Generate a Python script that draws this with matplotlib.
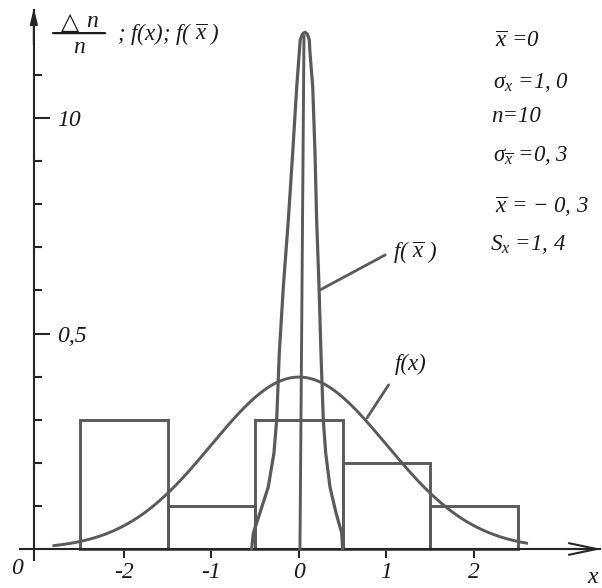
import numpy as np
import matplotlib
matplotlib.use("Agg")
import matplotlib.pyplot as plt
from matplotlib.ticker import FixedLocator, FixedFormatter, NullFormatter

# Relative frequencies Δn/n of a sample of n = 10 (bins of width 1)
bin_left = [-2.5, -1.5, -0.5, 0.5, 1.5]
bin_width = 1.0
rel_freq = [0.3, 0.1, 0.3, 0.2, 0.1]

# Population density f(x): normal, mean 0, sigma 1
pop_mean = 0.0
pop_sigma = 1.0
fx_from, fx_to = -2.8, 2.6

# Density of the sample mean f(x̄), traced outline
fbar_x = [-0.541, -0.522, -0.446, -0.351, -0.286, -0.255, -0.225, -0.179,
          -0.122, -0.072, -0.026, 0.003, 0.014, 0.040, 0.069, 0.095, 0.118,
          0.126, 0.157, 0.183, 0.202, 0.229, 0.251, 0.278, 0.305, 0.354,
          0.423, 0.488, 0.499]
fbar_y = [0.0, 0.037, 0.084, 0.144, 0.223, 0.299, 0.455, 0.608,
          0.763, 0.919, 1.072, 1.151, 1.181, 1.195, 1.199, 1.195, 1.181,
          1.151, 1.072, 0.919, 0.763, 0.608, 0.455, 0.299, 0.223, 0.144,
          0.084, 0.037, 0.0]
# centre line of f(x̄)
centre_x = [0.011, 0.057]
centre_y = [0.0, 1.19]

x_ticks = [-2, -1, 0, 1, 2]
x_tick_labels = ["-2", "-1", "0", "1", "2"]
y_major = [0.5, 1.0]
y_major_labels = ["0,5", "10"]
y_minor = [0.1, 0.2, 0.3, 0.4, 0.6, 0.7, 0.8, 0.9, 1.1]

stats_text = [r"$\overline{x}$ =0",
              r"$\sigma_x$ =1, 0",
              "n=10",
              r"$\sigma_{\overline{x}}$ =0, 3",
              r"$\overline{x}$ = − 0, 3",
              r"$S_x$ =1, 4"]
stats_x = [2.24, 2.22, 2.20, 2.22, 2.24, 2.18]
stats_y = [1.165, 1.070, 0.991, 0.900, 0.780, 0.694]

plt.rcParams.update({
    "font.family": ["Liberation Serif", "DejaVu Serif"],
    "font.style": "italic",
    "mathtext.fontset": "custom",
    "mathtext.it": "Liberation Serif:italic",
    "mathtext.rm": "Liberation Serif:italic",
    "mathtext.bf": "Liberation Serif:italic:bold",
    "mathtext.sf": "Liberation Serif:italic",
})

line_col = "#5a5a5a"
axis_col = "#262626"
text_col = "#1a1a1a"
fs_tick = 17
fs_note = 16.5

fig = plt.figure(figsize=(6.02, 5.88), dpi=100)
ax = fig.add_axes([0, 0, 1, 1])
ax.set_xlim(-3.417, 3.463)
ax.set_ylim(-0.0905, 1.2738)

# axes crossing at the origin of the diagram
axis_x0 = -3.03
for s in ("top", "left"):
    ax.spines[s].set_visible(False)
ax.spines["bottom"].set_position(("data", 0.0))
ax.spines["bottom"].set_bounds(-3.19, 3.44)
ax.spines["right"].set_position(("data", axis_x0))
ax.spines["right"].set_bounds(-0.026, 1.25)
for s in ("bottom", "right"):
    ax.spines[s].set_color(axis_col)
    ax.spines[s].set_linewidth(1.5)

ax.xaxis.set_major_locator(FixedLocator(x_ticks))
ax.xaxis.set_major_formatter(FixedFormatter(x_tick_labels))
ax.tick_params(axis="x", direction="out", length=6.5, width=1.5,
               color=axis_col, pad=3, labelsize=fs_tick, labelcolor=text_col)

ax.yaxis.tick_right()
ax.yaxis.set_major_locator(FixedLocator(y_major))
ax.yaxis.set_major_formatter(FixedFormatter(y_major_labels))
ax.yaxis.set_minor_locator(FixedLocator(y_minor))
ax.yaxis.set_minor_formatter(NullFormatter())
ax.tick_params(axis="y", which="major", direction="out", length=11.5,
               width=1.5, color=axis_col, pad=5, labelsize=fs_tick,
               labelcolor=text_col)
ax.tick_params(axis="y", which="minor", direction="out", length=5.5,
               width=1.5, color=axis_col)
for lab in ax.get_xticklabels() + ax.get_yticklabels():
    lab.set_fontstyle("italic")

# axis arrows
ax.annotate("", xy=(axis_x0, 1.255), xytext=(axis_x0, 1.17),
            arrowprops=dict(arrowstyle="-|>,head_length=0.9,head_width=0.22",
                            color=axis_col, lw=1.5, shrinkA=0, shrinkB=0))
ax.annotate("", xy=(3.46, 0.0), xytext=(3.0, 0.0),
            arrowprops=dict(arrowstyle="->,head_length=2.0,head_width=0.42",
                            color=axis_col, lw=1.5, shrinkA=0, shrinkB=0))

# histogram of relative frequencies
centres = [b + bin_width / 2 for b in bin_left]
ax.bar(centres, rel_freq, width=bin_width, fill=False,
       edgecolor=line_col, linewidth=2.1, zorder=2)

# population density
xs = np.linspace(fx_from, fx_to, 400)
fx = np.exp(-0.5 * ((xs - pop_mean) / pop_sigma) ** 2) / (pop_sigma * np.sqrt(2 * np.pi))
ax.plot(xs, fx, color=line_col, lw=2.1, zorder=3)

# density of the sample mean
ax.plot(fbar_x, fbar_y, color=line_col, lw=2.3, zorder=3,
        solid_joinstyle="round", solid_capstyle="round")
ax.plot(centre_x, centre_y, color=line_col, lw=2.1, zorder=3)

# ordinate caption: fraction Δn / n followed by the curve names
ax.text(-2.617, 1.223, "△", family="DejaVu Sans", fontstyle="normal",
        fontsize=17, color=text_col, ha="center", va="center")
ax.text(-2.366, 1.223, "n", fontsize=17, color=text_col,
        ha="center", va="center")
ax.text(-2.514, 1.163, "n", fontsize=17, color=text_col,
        ha="center", va="center")
ax.annotate("", xy=(-2.217, 1.197), xytext=(-2.811, 1.197),
            arrowprops=dict(arrowstyle="-", color=text_col, lw=1.6,
                            shrinkA=0, shrinkB=0))
ax.text(-2.08, 1.181, "; f(x); f( $\\overline{x}$ )",
        fontsize=fs_note, color=text_col, ha="left", va="baseline")

for s, x, y in zip(stats_text, stats_x, stats_y):
    ax.text(x, y, s, fontsize=fs_note, color=text_col, ha="left", va="baseline")

ax.annotate(r"f( $\overline{x}$ )", xy=(0.24, 0.601), xytext=(1.074, 0.675),
            fontsize=fs_note, color=text_col, ha="left", va="baseline",
            arrowprops=dict(arrowstyle="-", color=line_col, lw=2.0,
                            shrinkA=4, shrinkB=0, relpos=(0.0, 0.55)))
ax.annotate("f(x)", xy=(0.777, 0.304), xytext=(1.097, 0.415),
            fontsize=fs_note, color=text_col, ha="left", va="baseline",
            arrowprops=dict(arrowstyle="-", color=line_col, lw=2.0,
                            shrinkA=6, shrinkB=0, relpos=(0.0, 0.0)))

ax.text(-3.223, -0.046, "0", fontsize=fs_tick, color=text_col,
        ha="center", va="center")
ax.text(3.35, -0.067, "x", fontsize=fs_tick, color=text_col,
        ha="center", va="center")

fig.savefig("out.png", dpi=100, facecolor="white")
